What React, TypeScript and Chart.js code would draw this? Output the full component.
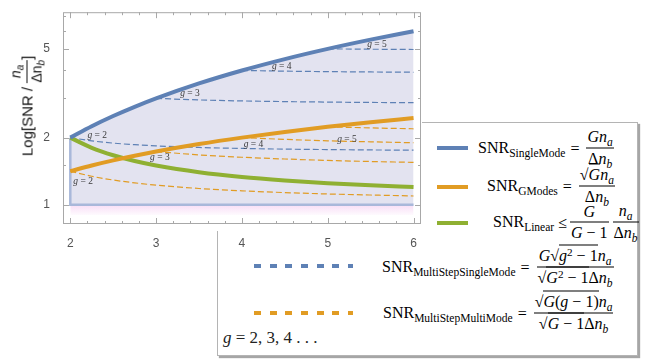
import React, { useEffect, useRef } from 'react';
import { Chart, registerables } from 'chart.js';
Chart.register(...registerables);

// ---------- data ----------
const G = [2, 2.25, 2.5, 2.75, 3, 3.5, 4, 4.5, 5, 5.5, 6];
const singleMode = [2, 2.25, 2.5, 2.75, 3, 3.5, 4, 4.5, 5, 5.5, 6];
const gModes = [1.414, 1.5, 1.581, 1.658, 1.732, 1.871, 2.0, 2.121, 2.236, 2.345, 2.449];
const linear = [2, 1.8, 1.667, 1.571, 1.5, 1.4, 1.333, 1.286, 1.25, 1.222, 1.2];

const msSingle2 = [2.0, 1.934, 1.89, 1.859, 1.837, 1.807, 1.789, 1.776, 1.768, 1.761, 1.757];
const msSingle3 = [null, null, null, null, 3.0, 2.951, 2.921, 2.901, 2.887, 2.876, 2.869];
const msSingle4 = [null, null, null, null, null, null, 4.0, 3.972, 3.953, 3.939, 3.928];
const msSingle5 = [null, null, null, null, null, null, null, null, 5.0, 4.982, 4.968];

const msMulti2 = [1.414, 1.342, 1.291, 1.254, 1.225, 1.183, 1.155, 1.134, 1.118, 1.106, 1.095];
const msMulti3 = [null, null, null, null, 1.732, 1.673, 1.633, 1.604, 1.581, 1.563, 1.549];
const msMulti4 = [null, null, null, null, null, null, 2.0, 1.964, 1.936, 1.915, 1.897];
const msMulti5 = [null, null, null, null, null, null, null, null, 2.236, 2.211, 2.191];

// boundary of the shaded region
const boundX = [2, 2, 6];
const boundY = [2, 1, 1];

// curve annotations "g = n"
const labelG = [2, 3, 4, 5, 2, 3, 4, 5];
const labelX = [2.2, 3.28, 4.35, 5.46, 2.035, 2.93, 4.02, 5.11];
const labelY = [2.05, 3.17, 4.15, 5.21, 1.27, 1.63, 1.87, 1.96];

// axes
const xTicks = [2, 3, 4, 5, 6];
const yTicks = [1, 2, 5];
const yMinorTicks = [1.5, 3, 4, 6, 7];
const X_MIN = 1.915, X_MAX = 6.087, Y_MIN = 0.82, Y_MAX = 7.3;

const BLUE = '#5E81B5';
const ORANGE = '#E19C24';
const GREEN = '#8FB032';

const serif = '"Liberation Serif", "Times New Roman", serif';
const sans = '"Liberation Sans", Arial, sans-serif';

const toPts = (ys: (number | null)[], xs: number[] = G) =>
  xs.map((x, i) => ({ x, y: ys[i] })).filter((p) => p.y != null) as { x: number; y: number }[];

const bgPlugin = {
  id: 'bg',
  beforeDraw(chart: any) {
    const { ctx, chartArea } = chart;
    ctx.save();
    ctx.fillStyle = '#ffffff';
    ctx.fillRect(0, 0, chartArea.right + 1, chartArea.bottom + 7);
    ctx.restore();
  },
};

const framePlugin = {
  id: 'frame',
  afterDatasetsDraw(chart: any) {
    const { ctx, chartArea } = chart;
    const { left, right, top, bottom } = chartArea;
    const xs = chart.scales.x;
    const ys = chart.scales.y;
    ctx.save();
    ctx.strokeStyle = '#a8a8a8';
    ctx.lineWidth = 1;
    ctx.strokeRect(left + 0.5, top + 0.5, right - left - 1, bottom - top - 1);
    const xMinor: number[] = [];
    for (let v = 2; v <= 6.001; v += 0.2) {
      const r = Math.round(v * 10) / 10;
      if (Math.abs(r - Math.round(r)) > 0.01) xMinor.push(r);
    }
    const tick = (x1: number, y1: number, x2: number, y2: number) => {
      ctx.beginPath();
      ctx.moveTo(x1, y1);
      ctx.lineTo(x2, y2);
      ctx.stroke();
    };
    xTicks.forEach((v) => {
      const p = Math.round(xs.getPixelForValue(v)) + 0.5;
      tick(p, bottom, p, bottom - 6);
      tick(p, top, p, top + 6);
    });
    xMinor.forEach((v) => {
      const p = Math.round(xs.getPixelForValue(v)) + 0.5;
      tick(p, bottom, p, bottom - 3);
      tick(p, top, p, top + 3);
    });
    yTicks.forEach((v) => {
      const p = Math.round(ys.getPixelForValue(v)) + 0.5;
      tick(left, p, left + 6, p);
      tick(right, p, right - 6, p);
    });
    yMinorTicks.forEach((v) => {
      const p = Math.round(ys.getPixelForValue(v)) + 0.5;
      tick(left, p, left + 3, p);
      tick(right, p, right - 3, p);
    });
    ctx.restore();
  },
};

const labelPlugin = {
  id: 'glabels',
  afterDatasetsDraw(chart: any) {
    const { ctx } = chart;
    const xs = chart.scales.x;
    const ys = chart.scales.y;
    ctx.save();
    ctx.fillStyle = '#3a3a3a';
    ctx.textBaseline = 'middle';
    ctx.textAlign = 'left';
    labelG.forEach((g, i) => {
      const px = xs.getPixelForValue(labelX[i]);
      const py = ys.getPixelForValue(labelY[i]);
      ctx.font = `italic 9.5px ${serif}`;
      ctx.fillText('g', px, py);
      const w = ctx.measureText('g').width;
      ctx.font = `9.5px ${serif}`;
      ctx.fillText(` = ${g}`, px + w, py);
    });
    ctx.restore();
  },
};

// ---------- math helpers for the HTML legend ----------
const Sb = ({ children, it }: any) => (
  <span style={{ fontSize: '0.72em', position: 'relative', top: '0.32em', fontStyle: it ? 'italic' : 'normal' }}>{children}</span>
);
const Sp = ({ children }: any) => (
  <span style={{ fontSize: '0.7em', position: 'relative', top: '-0.45em' }}>{children}</span>
);
const Sqrt = ({ children }: any) => (
  <span style={{ whiteSpace: 'nowrap' }}>
    <span>√</span>
    <span style={{ borderTop: '1px solid #000', paddingTop: 1 }}>{children}</span>
  </span>
);
const Frac = ({ n, d }: any) => (
  <span style={{ display: 'inline-flex', flexDirection: 'column', alignItems: 'center', margin: '0 2px' }}>
    <span style={{ padding: '0 1px 1px', lineHeight: '18px' }}>{n}</span>
    <span style={{ borderTop: '1px solid #000', padding: '1px 1px 0', lineHeight: '18px', alignSelf: 'stretch', textAlign: 'center' }}>{d}</span>
  </span>
);
const Row = ({ left, y, children }: any) => (
  <div
    style={{
      position: 'absolute',
      left,
      top: y,
      transform: 'translateY(-50%)',
      display: 'flex',
      alignItems: 'center',
      whiteSpace: 'nowrap',
      fontFamily: serif,
      fontSize: 16,
      lineHeight: '18px',
      color: '#000',
    }}
  >
    {children}
  </div>
);
const Eq = ({ children }: any) => <span style={{ margin: '0 5px' }}>{children}</span>;
const na = (
  <>
    <i>n</i>
    <Sb it>a</Sb>
  </>
);
const dnb = (
  <>
    Δ<i>n</i>
    <Sb it>b</Sb>
  </>
);

const Swatch = ({ left, y, width, color, dashed }: any) => (
  <div
    style={{
      position: 'absolute',
      left,
      top: y - 2,
      width,
      height: 4,
      background: dashed
        ? `repeating-linear-gradient(to right, ${color} 0px, ${color} 7px, transparent 7px, transparent 15.7px)`
        : color,
    }}
  />
);

const Legend = () => (
  <>
    <div
      style={{
        position: 'absolute',
        left: 217,
        top: 122,
        width: 419,
        height: 232,
        border: '1px solid #b4b4b4',
        boxShadow: '2px 2px 1px rgba(0,0,0,0.35)',
        background: '#fff',
        zIndex: 0,
      }}
    />
    <div style={{ position: 'absolute', left: 0, top: 0, width: 648, height: 362, zIndex: 0 }}>
      <Swatch left={437} y={148} width={31} color={BLUE} />
      <Row left={478} y={148}>
        <span>
          SNR<Sb>SingleMode</Sb>
        </span>
        <Eq>=</Eq>
        <Frac n={<><i>G</i>{na}</>} d={dnb} />
      </Row>

      <Swatch left={437} y={187} width={31} color={ORANGE} />
      <Row left={487} y={186}>
        <span>
          SNR<Sb>GModes</Sb>
        </span>
        <Eq>=</Eq>
        <Frac n={<><Sqrt><i>G</i></Sqrt>{na}</>} d={dnb} />
      </Row>

      <Swatch left={437} y={223} width={31} color={GREEN} />
      <Row left={493} y={222}>
        <span>
          SNR<Sb>Linear</Sb>
        </span>
        <span style={{ margin: '0 1px 0 4px' }}>≤</span>
        <Frac n={<i>G</i>} d={<><i>G</i> − 1</>} />
        <Frac n={na} d={dnb} />
      </Row>

      <Swatch left={254} y={266} width={99} color={BLUE} dashed />
      <Row left={382} y={267}>
        <span>
          SNR<Sb>MultiStepSingleMode</Sb>
        </span>
        <Eq>=</Eq>
        <Frac
          n={<><i>G</i><Sqrt><i>g</i><Sp>2</Sp> − 1</Sqrt>{na}</>}
          d={<><Sqrt><i>G</i><Sp>2</Sp> − 1</Sqrt>{dnb}</>}
        />
      </Row>

      <Swatch left={254} y={313} width={99} color={ORANGE} dashed />
      <Row left={383} y={313}>
        <span>
          SNR<Sb>MultiStepMultiMode</Sb>
        </span>
        <Eq>=</Eq>
        <Frac
          n={<><Sqrt><i>G</i>(<i>g</i> − 1)</Sqrt>{na}</>}
          d={<><Sqrt><i>G</i> − 1</Sqrt>{dnb}</>}
        />
      </Row>

      <div
        style={{
          position: 'absolute',
          left: 223,
          top: 338,
          transform: 'translateY(-50%)',
          fontFamily: serif,
          fontSize: 17,
          lineHeight: '20px',
          whiteSpace: 'nowrap',
          color: '#222',
        }}
      >
        <i>g</i> = 2, 3, 4 . . .
      </div>
    </div>
  </>
);

const YTitle = () => (
  <div style={{ position: 'absolute', left: 27, top: 106, width: 0, height: 0, zIndex: 2 }}>
    <div
      style={{
        position: 'absolute',
        left: 0,
        top: 0,
        transform: 'translate(-50%,-50%) rotate(-90deg)',
        whiteSpace: 'nowrap',
        display: 'flex',
        alignItems: 'center',
        fontFamily: sans,
        fontSize: 15,
        lineHeight: '17px',
        color: '#111',
      }}
    >
      <span>Log[SNR /&nbsp;</span>
      <span style={{ display: 'inline-flex', flexDirection: 'column', alignItems: 'center', fontSize: 14 }}>
        <span style={{ lineHeight: '16px', padding: '0 1px 1px' }}>
          <i>n</i>
          <Sb it>a</Sb>
        </span>
        <span style={{ lineHeight: '16px', borderTop: '1.5px solid #111', padding: '1px 0 0' }}>
          Δn<Sb it>b</Sb>
        </span>
      </span>
      <span>]</span>
    </div>
  </div>
);

export default function App() {
  const ref = useRef<HTMLCanvasElement>(null);

  useEffect(() => {
    document.body.style.margin = '0';
    const canvas = ref.current;
    if (!canvas) return;

    const solid = (label: string, ys: (number | null)[], color: string, extra: any = {}) => ({
      label,
      data: toPts(ys),
      borderColor: color,
      borderWidth: 4,
      pointRadius: 0,
      cubicInterpolationMode: 'monotone',
      fill: false,
      borderCapStyle: 'butt',
      ...extra,
    });
    const dashed = (label: string, ys: (number | null)[], color: string) => ({
      label,
      data: toPts(ys),
      borderColor: color,
      borderWidth: 1.2,
      borderDash: [6, 3],
      pointRadius: 0,
      cubicInterpolationMode: 'monotone',
      fill: false,
    });

    const chart = new Chart(canvas, {
      type: 'line',
      data: {
        datasets: [
          solid('SingleMode', singleMode, BLUE, { fill: { value: 1 }, backgroundColor: '#E3E3F0' }),
          solid('GModes', gModes, ORANGE),
          solid('Linear', linear, GREEN),
          dashed('MS single g=2', msSingle2, BLUE),
          dashed('MS single g=3', msSingle3, BLUE),
          dashed('MS single g=4', msSingle4, BLUE),
          dashed('MS single g=5', msSingle5, BLUE),
          dashed('MS multi g=2', msMulti2, ORANGE),
          dashed('MS multi g=3', msMulti3, ORANGE),
          dashed('MS multi g=4', msMulti4, ORANGE),
          dashed('MS multi g=5', msMulti5, ORANGE),
          {
            label: 'bound',
            data: toPts(boundY, boundX),
            borderColor: '#A9B8DA',
            borderWidth: 2.5,
            pointRadius: 0,
            tension: 0,
            fill: { value: 0.9 },
            backgroundColor: (c: any) => {
              const ch = c.chart;
              if (!ch.chartArea) return 'rgba(0,0,0,0)';
              const y1 = ch.scales.y.getPixelForValue(1);
              const g = ch.ctx.createLinearGradient(0, y1, 0, y1 + 12);
              g.addColorStop(0, 'rgba(246,210,243,0.75)');
              g.addColorStop(1, 'rgba(246,210,243,0)');
              return g;
            },
          } as any,
        ] as any,
      },
      options: {
        animation: false,
        responsive: false,
        maintainAspectRatio: false,
        layout: { padding: { left: 0, top: 4, right: 227, bottom: 114 } },
        plugins: {
          legend: { display: false },
          tooltip: { enabled: false },
          filler: { drawTime: 'beforeDatasetsDraw' } as any,
        },
        scales: {
          x: {
            type: 'linear',
            min: X_MIN,
            max: X_MAX,
            grid: { display: false },
            border: { display: false },
            afterBuildTicks: (s: any) => {
              s.ticks = xTicks.map((v) => ({ value: v }));
            },
            afterFit: (s: any) => {
              s.height = 24;
            },
            ticks: {
              padding: 4,
              color: '#555',
              font: { family: sans, size: 12 },
              callback: (v: any) => String(v),
              maxRotation: 0,
            },
          },
          y: {
            type: 'logarithmic',
            min: Y_MIN,
            max: Y_MAX,
            grid: { display: false },
            border: { display: false },
            afterBuildTicks: (s: any) => {
              s.ticks = yTicks.map((v) => ({ value: v }));
            },
            afterFit: (s: any) => {
              s.width = 63;
            },
            ticks: {
              padding: 5,
              color: '#555',
              font: { family: sans, size: 12 },
              callback: (v: any) => String(v),
            },
          },
        },
      } as any,
      plugins: [bgPlugin, framePlugin, labelPlugin],
    });
    return () => chart.destroy();
  }, []);

  return (
    <div style={{ position: 'relative', width: 648, height: 362, overflow: 'hidden', background: '#fff' }}>
      <Legend />
      <canvas
        ref={ref}
        width={648}
        height={362}
        style={{ position: 'absolute', left: 0, top: 0, zIndex: 1, pointerEvents: 'none' }}
      />
      <YTitle />
    </div>
  );
}
